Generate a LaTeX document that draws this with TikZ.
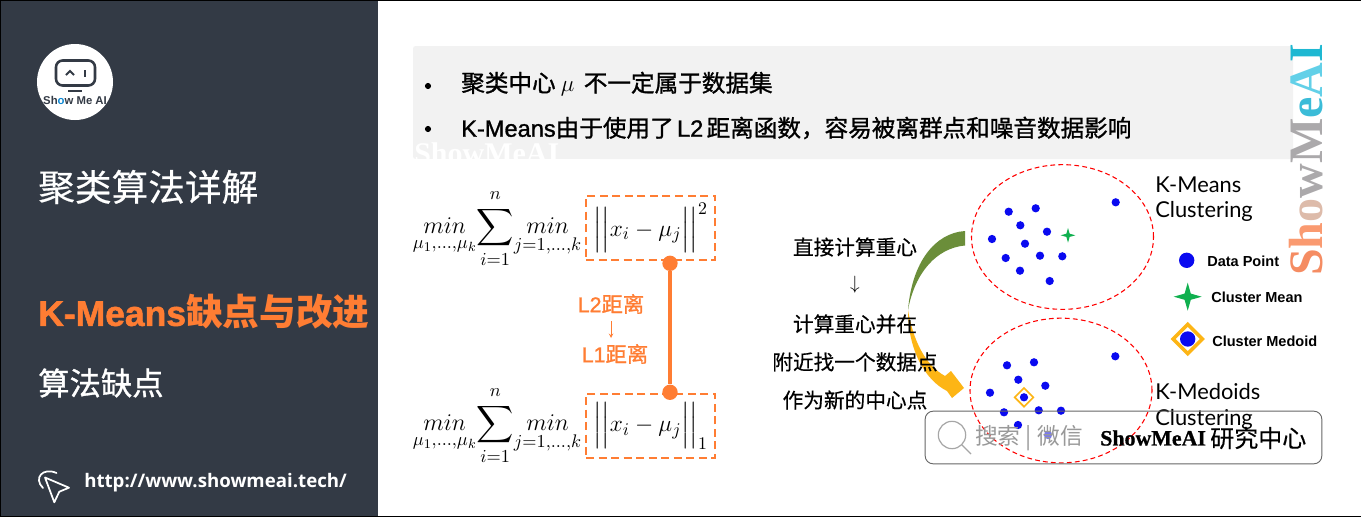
\documentclass[tikz,border=0pt]{standalone}
\usepackage{amsmath}
\usepackage{amssymb}
\usepackage{fontspec}
\usepackage{tikz}
\usetikzlibrary{shapes.geometric}
\setmainfont{Noto Sans CJK SC}
\newfontfamily\medfont[FakeBold=1.1]{Noto Sans CJK SC}
\newfontfamily\softfont[FakeBold=0.4]{Noto Sans CJK SC}
\newfontfamily\latnfont{Open Sans}
\newfontfamily\lblfont{Liberation Sans}
\newfontfamily\widefont[FakeBold=1.2]{Liberation Sans}
\newfontfamily\flarefont{Lato}
\newfontfamily\markfont{Liberation Serif}
\newcommand{\wide}[1]{{\widefont #1}}
\newcommand{\sumpart}{\scalebox{1.25}{$\displaystyle \mathop{min}_{\mu_1,\dots,\mu_k}\!\sum_{\mathstrut i=1}^{n\mathstrut}\!\mathop{min}_{j=1,\dots,k}$}}
\definecolor{panelcol}{HTML}{333A45}
\definecolor{boxcol}{HTML}{F2F2F2}
\definecolor{orangecol}{HTML}{FF7D33}
\definecolor{bluecol}{HTML}{0A0AF0}
\definecolor{starcol}{HTML}{10B04F}
\definecolor{medcol}{HTML}{FDB515}
\definecolor{greencol}{HTML}{6B8E3A}
\tikzset{
  title/.style={anchor=west, inner sep=0pt, text=white, font=\fontsize{27.5}{30}\softfont},
  bulletline/.style={anchor=west, inner sep=0pt, font=\fontsize{17.7}{20}\medfont},
  bulletdot/.style={circle, fill=black, inner sep=0pt, minimum size=4.6pt},
  steptext/.style={inner sep=0pt, font=\fontsize{15.5}{18}\softfont},
  orangetext/.style={inner sep=0pt, text=orangecol, font=\fontsize{16}{18}\medfont},
  clustertext/.style={anchor=west, inner sep=0pt, font=\fontsize{16.4}{18}\flarefont},
  legendtext/.style={anchor=west, inner sep=0pt, font=\fontsize{10.9}{12}\lblfont\bfseries},
  distbox/.style={draw=orangecol, line width=1.5pt, dash pattern=on 6pt off 3.4pt,
    minimum width=96.7pt, minimum height=48.5pt, inner sep=0pt},
  joint/.style={circle, fill=orangecol, inner sep=0pt, minimum size=11.5pt},
  datapt/.style={circle, fill=bluecol, inner sep=0pt, minimum size=6.2pt},
  bigpt/.style={circle, fill=bluecol, inner sep=0pt, minimum size=11.5pt},
  meanstar/.style={star, star points=4, star point ratio=3.2, fill=starcol, draw=none, inner sep=0pt},
  medbox/.style={diamond, aspect=1, draw=medcol, inner sep=0pt},
  region/.style={ellipse, draw=red, line width=0.8pt, dash pattern=on 3.6pt off 2.4pt, inner sep=0pt,
    minimum width=136.5pt, minimum height=108.5pt},
}
\begin{document}
\begin{tikzpicture}[x=0.75pt, y=-0.75pt]
\useasboundingbox (0,0) rectangle (1361,518);
\fill[white] (0,0) rectangle (1361,518);
\fill[panelcol] (0,0) rectangle (378,517);
\draw[black, line width=1pt] (0.5,0.5) -- (1360.5,0.5);
\draw[black, line width=1pt] (0.5,0.5) -- (0.5,516.5) -- (1360.5,516.5);

% side panel
\node[circle, fill=white, inner sep=0pt, minimum size=57pt] (logo) at (75,82) {};
\draw[panelcol, line width=1.9pt, rounded corners=5pt] (56,60.5) rectangle (95,85.5);
\draw[panelcol, line width=1.7pt] (68,91) -- (82,91);
\draw[panelcol, line width=1.5pt] (66,75) -- (70,71) -- (74,75);
\draw[panelcol, line width=1.8pt] (85,70) -- (85,77);
\node[inner sep=0pt, font=\fontsize{8.5}{9}\lblfont\bfseries, text=panelcol] (logotext) at (75,100.5)
  {Sh\textcolor{cyan!70!blue}{o}w Me AI};
\node[title] (maintitle) at (38,187) {聚类算法详解};
\node[title, text=orangecol, font=\fontsize{27.5}{30}\bfseries] (subtitle) at (38,312)
  {{\fontsize{26.6}{30}\widefont\addfontfeature{FakeBold=1.6}K-Means}缺点与改进};
\node[title, font=\fontsize{23.5}{26}\medfont] (section) at (38,383) {算法缺点};
\draw[white, line width=1.3pt, line join=round] (45,477.5) -- (69,487.7) -- (59.3,491.7) -- (54.3,502.3) -- cycle;
\draw[white, line width=1.3pt, line cap=round] (43,488) .. controls (33,478) and (43,467) .. (56.5,473);
\node[anchor=west, inner sep=0pt, text=white, font=\fontsize{14}{16}\latnfont\bfseries] (url) at (84,483)
  {http://www.showmeai.tech/};

% bullets
\fill[boxcol, rounded corners=2pt] (413,46) rectangle (1293,159);
\node[anchor=west, inner sep=0pt, text=white, font=\fontsize{22.5}{24}\markfont\bfseries] (markb) at (414,153) {ShowMeAI};
\fill[white] (413,159) rectangle (600,180);
\node[bulletdot] (bulleta) at (428,86) {};
\node[bulletdot] (bulletb) at (428,129) {};
\node[bulletline] (linea) at (461,84) {聚类中心 $\mu$ \kern3pt不一定属于数据集};
\node[bulletline] (lineb) at (461,128) {\wide{K-Means}由于使用了\kern2.5pt\wide{L2}\kern2.5pt距离函数，容易被离群点和噪音数据影响};
\node[rotate=90, anchor=base west, inner sep=0pt, font=\fontsize{36}{38}\markfont\bfseries] (markr) at (1322,276)
  {\textcolor[HTML]{F58C62}{S}\textcolor[HTML]{FA9A70}{h}\textcolor[HTML]{DDBBAA}{o}\textcolor[HTML]{ABA9AB}{w}\textcolor[HTML]{ABA9AB}{M}\textcolor[HTML]{3BBCD8}{e}\textcolor[HTML]{62D0E8}{A}\textcolor[HTML]{1EB8D2}{I}};

% formulas
\node[inner sep=0pt, font=\fontsize{15.5}{18}\selectfont] (forma) at (497,228) {\sumpart};
\node[distbox, font=\fontsize{15.5}{18}\selectfont] (boxa) at (650.5,228)
  {\scalebox{1.22}{$\Bigl|\Bigl|x_i-\mu_j\Bigr|\Bigr|^2$}};
\node[inner sep=0pt, font=\fontsize{15.5}{18}\selectfont] (formb) at (497,425) {\sumpart};
\node[distbox, font=\fontsize{15.5}{18}\selectfont] (boxb) at (650.5,426)
  {\scalebox{1.22}{$\Bigl|\Bigl|x_i-\mu_j\Bigr|\Bigr|_1$}};
\node[joint] (jointa) at (670,263.3) {};
\node[joint] (jointb) at (670,392.3) {};
\draw[orangecol, line width=3pt] (jointa) -- (jointb);
\node[orangetext] (ltwo) at (611,304) {\wide{L2}距离};
\node[orangetext] (lone) at (615,354) {\wide{L1}距离};
\coordinate (tail) at (611,321);
\coordinate (head) at (611,338);
\draw[orangecol, line width=0.5pt, ->, >=stealth] (tail) -- (head);

% curved arrows
\fill[greencol] (965,231) .. controls (935,233) and (912,262) .. (908,310)
  .. controls (915,272) and (937,248) .. (965,245.5) -- cycle;
\fill[medcol] (908,310) .. controls (913,340) and (925,365) .. (945,376)
  -- (951,371) -- (964,388) -- (952,398) -- (947,391)
  .. controls (925,380) and (908,350) .. (908,310) -- cycle;

% middle steps
\node[steptext] (stepa) at (855,247) {直接计算重心};
\node[steptext] (stepb) at (855,285) {$\downarrow$};
\node[steptext] (stepc) at (855,324) {计算重心并在};
\node[steptext] (stepd) at (855,362) {附近找一个数据点};
\node[steptext] (stepe) at (855,400) {作为新的中心点};

% clusters
\node[region] (regiona) at (1062.5,237) {};
\node[region] (regionb) at (1061,390.5) {};

\node[datapt] (pa1) at (1008.7,211.7) {};
\node[datapt] (pa2) at (1035.7,208.3) {};
\node[datapt] (pa3) at (1115.7,202.3) {};
\node[datapt] (pa4) at (1020.3,225.3) {};
\node[datapt] (pa5) at (1047,231.7) {};
\node[datapt] (pa6) at (992,239) {};
\node[datapt] (pa7) at (1025,243.7) {};
\node[datapt] (pa8) at (1005.7,258) {};
\node[datapt] (pa9) at (1040,255.7) {};
\node[datapt] (pa10) at (1062.3,256.3) {};
\node[datapt] (pa11) at (1020,270.7) {};
\node[datapt] (pa12) at (1049.7,281) {};
\node[meanstar, minimum size=11pt] (meana) at (1068,235.3) {};

\node[datapt] (pb1) at (1007,365.3) {};
\node[datapt] (pb2) at (1034,362.3) {};
\node[datapt] (pb3) at (1115.3,356.3) {};
\node[datapt] (pb4) at (1018.3,379.7) {};
\node[datapt] (pb5) at (1045.3,385.7) {};
\node[datapt] (pb6) at (990,392.7) {};
\node[medbox, line width=1.2pt, minimum size=14.5pt] (medb) at (1024,397.3) {};
\node[datapt] (pb7) at (1024,397.3) {};
\node[datapt] (pb8) at (1004,412.3) {};
\node[datapt] (pb9) at (1038.7,410.3) {};
\node[datapt] (pb10) at (1061,410.7) {};
\node[datapt] (pb11) at (1018,425) {};
\node[datapt, opacity=0.55] (pb12) at (1048,435) {};

\node[clustertext] (namea) at (1155,185) {K-Means};
\node[clustertext] (nameb) at (1155,211) {Clustering};
\node[clustertext] (namec) at (1155,392) {K-Medoids};
\node[clustertext] (named) at (1155,419) {Clustering};

% legend
\node[bigpt] (legpt) at (1186.7,260.3) {};
\node[legendtext] (legpttext) at (1207,261.5) {Data Point};
\node[meanstar, minimum size=21pt] (legmean) at (1187.7,296.7) {};
\node[legendtext] (legmeantext) at (1211,297) {Cluster Mean};
\node[medbox, line width=2.6pt, minimum size=23pt] (legmed) at (1187.7,339) {};
\node[bigpt] (legmedpt) at (1187.7,339) {};
\node[legendtext] (legmedtext) at (1212,341) {Cluster Medoid};

% search bar
\node[draw=black!60, line width=0.7pt, rounded corners=6pt,
  minimum width=297.5pt, minimum height=39.5pt, inner sep=0pt] (searchbar) at (1123.5,437.5) {};
\node[circle, draw=black!35, line width=0.9pt, inner sep=0pt, minimum size=20.5pt] (lens) at (952,435) {};
\coordinate (lensend) at (971,454);
\draw[black!35, line width=0.9pt] (lens.-45) -- (lensend);
\node[anchor=west, inner sep=0pt, text=black!40, font=\fontsize{17}{20}\selectfont] (searchtext) at (975,438)
  {搜索\kern4pt|\kern4pt微信};
\node[anchor=west, inner sep=0pt, font=\fontsize{16.4}{18}\markfont\bfseries\addfontfeature{FakeBold=0.8}] (searchname) at (1100,438) {ShowMeAI};
\node[anchor=west, inner sep=0pt, font=\fontsize{18}{20}\softfont] (searchcn) at (1210,438) {研究中心};
\end{tikzpicture}
\end{document}
